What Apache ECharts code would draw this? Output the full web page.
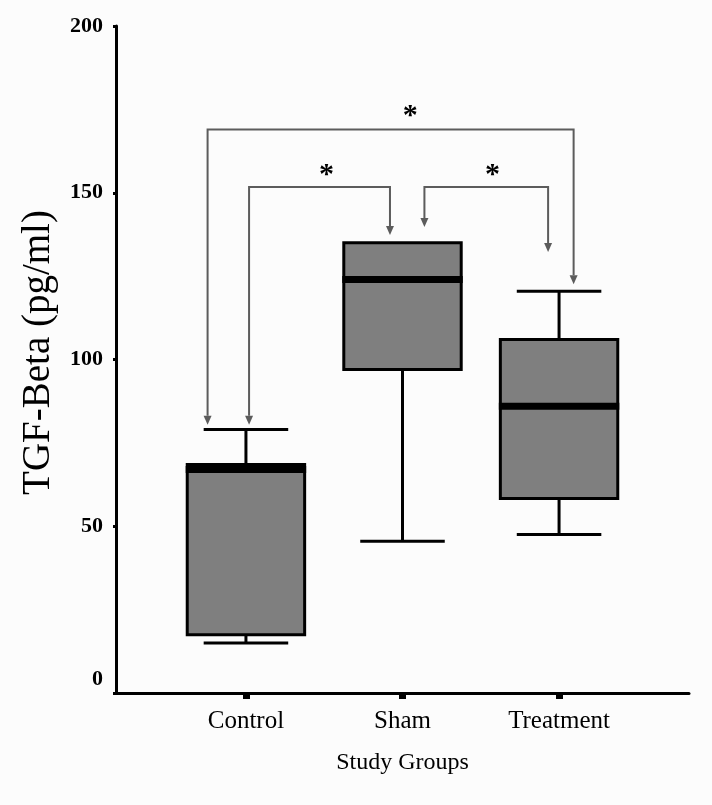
<!DOCTYPE html>
<html>
<head>
<meta charset="utf-8">
<script src="https://cdn.jsdelivr.net/npm/echarts@6/dist/echarts.min.js"></script>
<style>
  html, body { margin: 0; padding: 0; background: #fcfcfc; }
  #chart { width: 712px; height: 805px; }
</style>
</head>
<body>
<div id="chart"></div>
<script>
// ---- data ----
const categories = ['Control', 'Sham', 'Treatment'];
const groupPos = [1, 2, 3];
const whiskerMin = [15, 45.5, 47.5];
const q1 = [17.5, 97, 58.3];
const median = [67, 124, 86];
const q3 = [68.5, 135, 106];
const whiskerMax = [79, 135, 120.5];
const yTicks = [0, 50, 100, 150, 200];

// significance brackets (data units)
const bracketLeftX = [0.755, 1.02, 2.14];
const bracketRightX = [3.093, 1.92, 2.93];
const bracketTopY = [169, 151.7, 151.7];
const bracketLeftTipY = [80.4, 80.4, 139.7];
const bracketRightTipY = [122.6, 137.3, 132.2];
const starX = [2.05, 1.515, 2.575];
const starY = [173, 155.3, 155.3];
const starLabel = ['*', '*', '*'];

// ---- build ----
const boxData = groupPos.map((x, i) => [x, whiskerMin[i], q1[i], median[i], q3[i], whiskerMax[i]]);
const bracketData = bracketLeftX.map((xl, i) => [xl, bracketRightX[i], bracketTopY[i], bracketLeftTipY[i], bracketRightTipY[i], starX[i], starY[i]]);

const FONT = "'Liberation Serif', 'Times New Roman', serif";

function renderBox(params, api) {
  const x = api.value(0);
  const vmin = api.value(1), vq1 = api.value(2), vmed = api.value(3), vq3 = api.value(4), vmax = api.value(5);
  const c = v => api.coord([x, v]);
  const boxW = api.size([0.75, 0])[0];
  const capW = api.size([0.54, 0])[0];
  const pMax = c(vmax), pQ3 = c(vq3), pMed = c(vmed), pQ1 = c(vq1), pMin = c(vmin);
  const cx = pMed[0];
  const line = { stroke: '#000', lineWidth: 3 };
  const children = [];
  if (vmax > vq3) {
    children.push({ type: 'line', shape: { x1: cx, y1: pQ3[1], x2: cx, y2: pMax[1] }, style: line });
    children.push({ type: 'line', shape: { x1: cx - capW / 2, y1: pMax[1], x2: cx + capW / 2, y2: pMax[1] }, style: line });
  }
  if (vmin < vq1) {
    children.push({ type: 'line', shape: { x1: cx, y1: pQ1[1], x2: cx, y2: pMin[1] }, style: line });
    children.push({ type: 'line', shape: { x1: cx - capW / 2, y1: pMin[1], x2: cx + capW / 2, y2: pMin[1] }, style: line });
  }
  children.push({
    type: 'rect',
    shape: { x: cx - boxW / 2, y: pQ3[1], width: boxW, height: pQ1[1] - pQ3[1] },
    style: { fill: '#7f7f7f', stroke: '#000', lineWidth: 3 }
  });
  children.push({
    type: 'line',
    shape: { x1: cx - boxW / 2 - 1.5, y1: pMed[1], x2: cx + boxW / 2 + 1.5, y2: pMed[1] },
    style: { stroke: '#000', lineWidth: 7 }
  });
  return { type: 'group', children };
}

function renderBracket(params, api) {
  const xl = api.value(0), xr = api.value(1), yt = api.value(2), yl = api.value(3), yr = api.value(4);
  const sx = api.value(5), sy = api.value(6);
  const pTL = api.coord([xl, yt]), pTR = api.coord([xr, yt]);
  const pBL = api.coord([xl, yl]), pBR = api.coord([xr, yr]);
  const pS = api.coord([sx, sy]);
  const ah = 9, aw = 4;
  const col = '#5c5c5c';
  return {
    type: 'group',
    children: [
      {
        type: 'polyline',
        shape: { points: [[pBL[0], pBL[1] - ah], pTL, pTR, [pBR[0], pBR[1] - ah]] },
        style: { stroke: col, lineWidth: 2, fill: null }
      },
      {
        type: 'polygon',
        shape: { points: [[pBL[0] - aw, pBL[1] - ah], [pBL[0] + aw, pBL[1] - ah], [pBL[0], pBL[1]]] },
        style: { fill: col }
      },
      {
        type: 'polygon',
        shape: { points: [[pBR[0] - aw, pBR[1] - ah], [pBR[0] + aw, pBR[1] - ah], [pBR[0], pBR[1]]] },
        style: { fill: col }
      },
      {
        type: 'text',
        x: pS[0], y: pS[1],
        style: {
          text: starLabel[params.dataIndex],
          fill: '#000',
          font: 'bold 30px ' + FONT,
          textAlign: 'center',
          textVerticalAlign: 'middle'
        }
      }
    ]
  };
}

const chart = echarts.init(document.getElementById('chart'), null, { renderer: 'canvas' });
chart.setOption({
  backgroundColor: '#fcfcfc',
  animation: false,
  grid: { left: 116, right: 23, top: 26, bottom: 112, containLabel: false },
  xAxis: {
    type: 'value',
    min: 0.17,
    max: 3.83,
    splitLine: { show: false },
    axisLine: { show: true, onZero: false, lineStyle: { color: '#000', width: 3 } },
    axisTick: { show: true, customValues: groupPos, length: 6, lineStyle: { color: '#000', width: 7 } },
    axisLabel: {
      customValues: groupPos,
      formatter: v => categories[Math.round(v) - 1] || '',
      fontFamily: FONT, fontSize: 25, color: '#000', margin: 16
    },
    name: 'Study Groups',
    nameLocation: 'middle',
    nameGap: 58,
    nameTextStyle: { fontFamily: FONT, fontSize: 24, color: '#000' }
  },
  yAxis: {
    type: 'value',
    min: 0,
    max: 200,
    interval: 50,
    splitLine: { show: false },
    axisLine: { show: true, lineStyle: { color: '#000', width: 3 } },
    axisTick: { show: true, length: 3, lineStyle: { color: '#000', width: 3 } },
    axisLabel: {
      customValues: yTicks,
      formatter: v => v === 0 ? '{z|0}' : '{a|' + v + '}',
      margin: 13,
      rich: {
        a: { fontFamily: FONT, fontSize: 22, fontWeight: 'bold', color: '#000' },
        z: { fontFamily: FONT, fontSize: 22, fontWeight: 'bold', color: '#000', padding: [0, 0, 28, 0] }
      }
    },
    name: 'TGF-Beta (pg/ml)',
    nameLocation: 'middle',
    nameRotate: 90,
    nameGap: 58,
    nameTextStyle: { fontFamily: FONT, fontSize: 39, color: '#000', padding: [0, 0, 0, 14] }
  },
  series: [
    {
      type: 'custom',
      renderItem: renderBox,
      encode: { x: 0, y: [1, 2, 3, 4, 5] },
      data: boxData,
      z: 2
    },
    {
      type: 'custom',
      renderItem: renderBracket,
      encode: { x: [0, 1], y: [2, 3, 4] },
      data: bracketData,
      z: 3
    }
  ]
});
</script>
</body>
</html>
